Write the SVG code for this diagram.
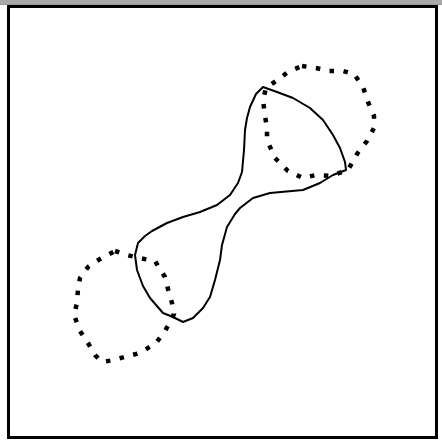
<svg xmlns="http://www.w3.org/2000/svg" width="442" height="445" viewBox="0 0 442 445">
<style>
.dot{fill:none;stroke:#000;stroke-width:4.5;stroke-dasharray:4.5 9.5;stroke-linecap:butt;stroke-linejoin:round}
.solid{fill:none;stroke:#000;stroke-width:2;stroke-linejoin:round}
</style>
<rect x="0" y="0" width="442" height="445" fill="#fff"/>
<rect x="0" y="0" width="442" height="5" fill="#a9a9a9"/>
<rect x="0" y="4" width="442" height="1" fill="#999"/>
<rect x="8.5" y="6.5" width="428" height="431" fill="#fff" stroke="#000" stroke-width="3"/>
<g id="loop-top">
<path class="dot" d="M302,66 L316,68 L329,71 L343,71 L354,74 L363,87 L368,102 L374,116 L374,128 L367,141 L357,154 L348,170 L331,176 L316,175 L303,178 L288,171 L275,158 L267,140 L267,128 L265,116 L263,100 L266,88 L276,81 L288,72 Z"/>
</g>
<g id="loop-bottom">
<path class="dot" d="M115,251 L127,255 L139,258 L155,261 L165,277 L168,289 L172,303 L174,314 L169,324 L165,331 L156,343 L140,353 L128,356 L114,360 L102,362 L95,355 L88,343 L80,331 L74,315 L77,303 L78,289 L80,278 L88,267 L95,262 L102,258 Z"/>
</g>
<g id="connectors">
<path class="solid" d="M263,87 L277,92 L293,98 L310,108 L323,120 L333,135 L340,148 L345,162 L346,170 L333,175 L320,183 L303,190 L270,193 L253,198 L240,208 L235,214 L227,227 L222,245 L220,260 L215,280 L210,297 L203,308 L193,318 L183,322 L173,317 L163,313 L150,298 L143,286 L137,270 L135,255 L138,243 L145,236 L152,231 L167,223 L183,217 L200,212 L217,205 L230,195 L238,183 L242,172 L244,150 L245,130 L247,118 L250,107 L256,94 Z"/>
</g>
</svg>
